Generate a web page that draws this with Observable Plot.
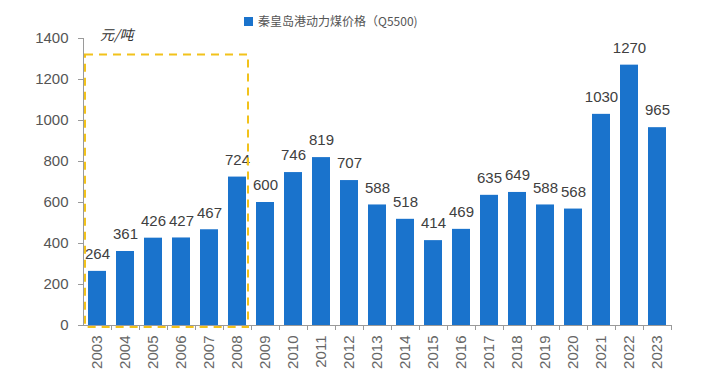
<!DOCTYPE html>
<html><head><meta charset="utf-8">
<script src="https://cdn.jsdelivr.net/npm/d3@7"></script>
<script src="https://cdn.jsdelivr.net/npm/@observablehq/plot@0.6"></script>
<style>
body{margin:0;background:#fff;font-family:"Liberation Sans",Arial,sans-serif;}
#wrap{position:relative;width:704px;height:385px;}
#legend{position:absolute;left:244px;top:12px;font-size:12px;color:#555;font-family:"Noto Sans CJK SC","Liberation Sans",sans-serif;white-space:nowrap;}
#legend span.sw{display:inline-block;width:9px;height:9px;background:#1a73cc;margin-right:5px;vertical-align:0px;}
#unit{position:absolute;left:100px;top:24px;font-size:14px;color:#333;font-family:"Noto Sans CJK SC",sans-serif;font-style:italic;}
</style></head><body>
<div id="wrap"><div id="legend"><span class="sw"></span>秦皇岛港动力煤价格（Q5500)</div><div id="unit">元/吨</div></div>
<script>
const years = ["2003","2004","2005","2006","2007","2008","2009","2010","2011","2012","2013","2014","2015","2016","2017","2018","2019","2020","2021","2022","2023"];
const prices = [264,361,426,427,467,724,600,746,819,707,588,518,414,469,635,649,588,568,1030,1270,965];
const yTicks = [0,200,400,600,800,1000,1200,1400];
const boxYears = ["2003","2008"];
const boxTop = 1320;
const data = years.map((y,i)=>({year:y, price:prices[i]}));
const chart = Plot.plot({
  width:704, height:385,
  marginTop:38, marginBottom:60, marginLeft:83, marginRight:33,
  style:{fontFamily:"Liberation Sans, Arial, sans-serif", background:"transparent"},
  x:{domain:years, paddingInner:0.36, paddingOuter:0.18, label:null},
  y:{domain:[0,1400], label:null},
  marks:[
    Plot.barY(data,{x:"year", y:"price", fill:"#1a73cc"}),
    Plot.ruleY([0],{stroke:"#9a9a9a", strokeWidth:1}),
    Plot.ruleX([0],{x:()=>years[0], dx:-14, y1:0, y2:1400, stroke:"#9a9a9a"}),
    Plot.ruleX(years,{x:d=>d, dx:14, y1:0, y2:0, insetBottom:-5, stroke:"#9a9a9a"}),
    Plot.axisY({ticks:yTicks, tickFormat:d=>String(d), tickSize:5, tickPadding:10, fontSize:15, color:"#555", stroke:"#9a9a9a", label:null}),
    Plot.axisX({tickSize:0, tickRotate:-90, tickPadding:10, fontSize:15, color:"#666", label:null}),
    Plot.text(data,{x:"year", y:"price", text:d=>String(d.price), dy:-17, fontSize:15, fill:"#404040"}),
    Plot.rect([0],{x1:()=>boxYears[0], x2:()=>boxYears[1], y1:-10, y2:boxTop, fill:"none", stroke:"#f2c21b", strokeWidth:2, strokeDasharray:"8,6", insetLeft:-3, insetRight:-2})
  ]
});
chart.style.position="absolute"; chart.style.left="0"; chart.style.top="0";
document.getElementById("wrap").prepend(chart);
</script>
</body></html>
